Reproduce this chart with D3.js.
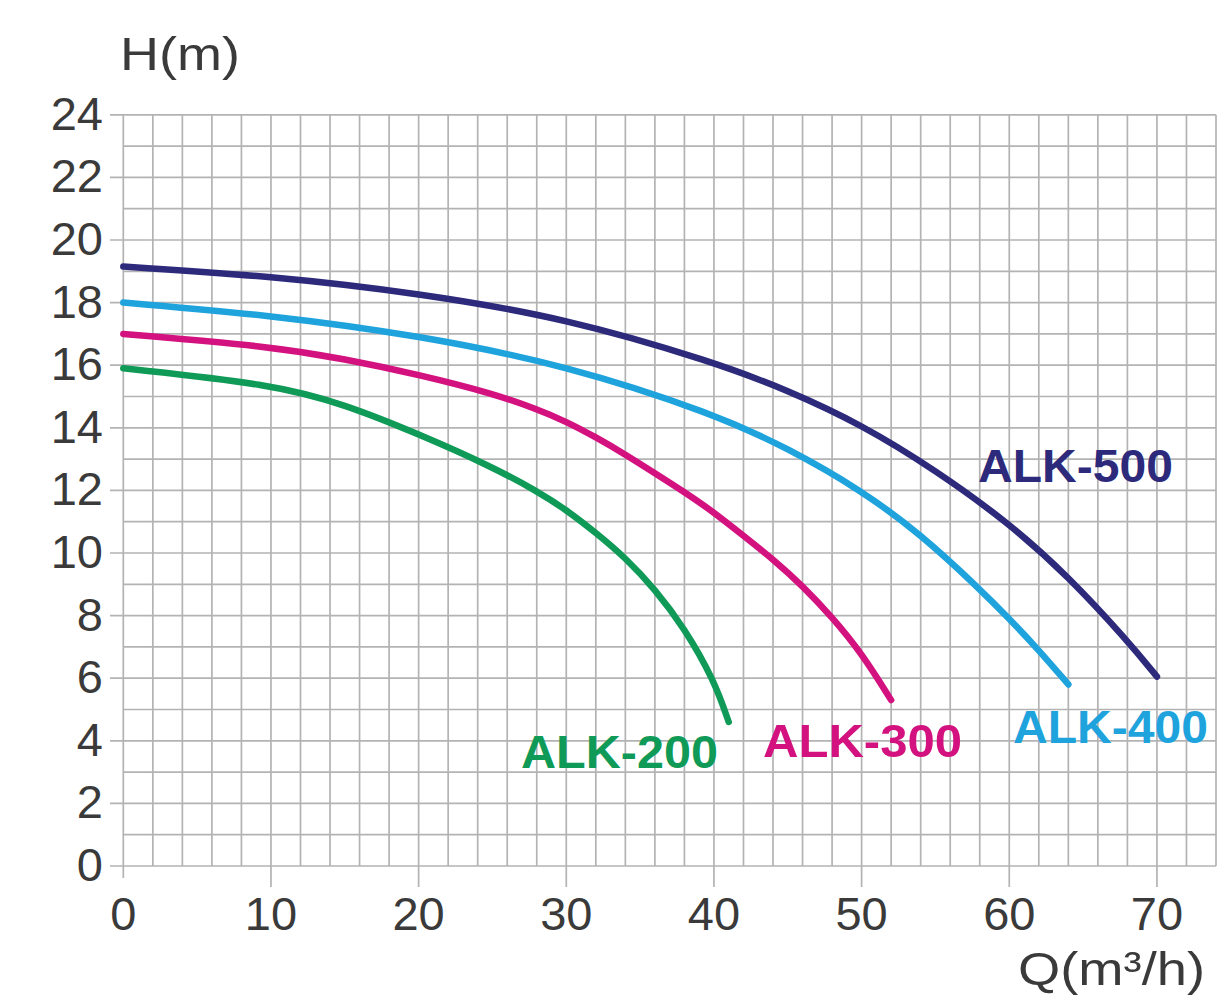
<!DOCTYPE html>
<html>
<head>
<meta charset="utf-8">
<script src="https://cdn.jsdelivr.net/npm/d3@7"></script>
<style>
  body { margin:0; background:#fff; }
  svg { display:block; }
</style>
</head>
<body>
<div id="chart"></div>
<script>
// pump curves (Q in m3/h, H in m)
var q500 = [0, 10, 20, 30, 40, 45, 50, 55, 60, 64, 68, 70];
var h500 = [19.15, 18.85, 18.3, 17.5, 16.1, 15.2, 14.1, 12.65, 10.95, 9.25, 7.2, 6.05];
var q400 = [0, 10, 20, 30, 40, 45, 50, 54, 58, 60, 62, 64];
var h400 = [18.0, 17.6, 16.95, 16.0, 14.45, 13.35, 12.0, 10.6, 8.85, 7.9, 6.9, 5.8];
var q300 = [0, 10, 15, 20, 25, 28, 30, 32, 34, 36, 38, 40, 42, 44, 46, 48, 50, 52];
var h300 = [17.0, 16.6, 16.2, 15.7, 15.1, 14.6, 14.2, 13.7, 13.15, 12.55, 11.95, 11.3, 10.55, 9.8, 8.95, 7.95, 6.8, 5.3];
var q200 = [0, 10, 15, 20, 25, 28, 30, 32, 34, 36, 38, 40, 41];
var h200 = [15.9, 15.4, 14.75, 13.8, 12.75, 11.98, 11.38, 10.65, 9.85, 8.85, 7.6, 5.95, 4.6];

var seriesNames = ['ALK-500', 'ALK-400', 'ALK-300', 'ALK-200'];
var seriesColors = ['#2d2a7c', '#1fa3dd', '#d4127f', '#109a57'];

var xTicks = [0, 10, 20, 30, 40, 50, 60, 70];
var yTicks = [0, 2, 4, 6, 8, 10, 12, 14, 16, 18, 20, 22, 24];

var width = 1218, height = 997;
var svg = d3.select('#chart').append('svg').attr('width', width).attr('height', height);

var x = d3.scaleLinear().domain([0, 74]).range([123.3, 1216]);
var y = d3.scaleLinear().domain([0, 24]).range([866, 114.8]);

var gridColor = '#b3b3b3';
var grid = svg.append('g');

// vertical grid every 2 units, majors run down as ticks
d3.range(0, 75, 2).forEach(function(v){
  var major = xTicks.indexOf(v) >= 0;
  grid.append('line')
    .attr('x1', x(v)).attr('x2', x(v))
    .attr('y1', y(24)).attr('y2', major ? (v == 0 ? 878 : 887) : y(0))
    .attr('stroke', gridColor).attr('stroke-width', 1.7);
});
// horizontal grid every unit, majors run left as ticks
d3.range(0, 25, 1).forEach(function(v){
  var major = yTicks.indexOf(v) >= 0;
  grid.append('line')
    .attr('x1', major ? 110 : x(0)).attr('x2', x(74))
    .attr('y1', y(v)).attr('y2', y(v))
    .attr('stroke', gridColor).attr('stroke-width', 1.7);
});

// tick labels
svg.append('g').selectAll('text').data(yTicks).enter().append('text')
  .attr('x', 103).attr('y', function(d){ return y(d) + 15; })
  .attr('text-anchor', 'end')
  .attr('font-family', 'Liberation Sans, Arial, sans-serif')
  .attr('font-size', 47).attr('fill', '#3a3a3a')
  .text(function(d){ return d; });

svg.append('g').selectAll('text').data(xTicks).enter().append('text')
  .attr('x', function(d){ return x(d); }).attr('y', 930)
  .attr('text-anchor', 'middle')
  .attr('font-family', 'Liberation Sans, Arial, sans-serif')
  .attr('font-size', 47).attr('fill', '#3a3a3a')
  .text(function(d){ return d; });

// axis titles
svg.append('text').attr('x', 120).attr('y', 70)
  .attr('font-family', 'Liberation Sans, Arial, sans-serif')
  .attr('font-size', 46).attr('fill', '#3a3a3a')
  .attr('textLength', 120).attr('lengthAdjust', 'spacingAndGlyphs')
  .text('H(m)');
svg.append('text').attr('x', 1018).attr('y', 985)
  .attr('font-family', 'Liberation Sans, Arial, sans-serif')
  .attr('font-size', 46).attr('fill', '#3a3a3a')
  .attr('textLength', 187).attr('lengthAdjust', 'spacingAndGlyphs')
  .text('Q(m³/h)');

// curves - basis smooths out reading noise
var line = d3.line()
  .x(function(d){ return x(d[0]); })
  .y(function(d){ return y(d[1]); })
  .curve(d3.curveBasis);

var allQ = [q500, q400, q300, q200];
var allH = [h500, h400, h300, h200];
for (var i = 0; i < allQ.length; i++) {
  var pts = allQ[i].map(function(q, j){ return [q, allH[i][j]]; });
  svg.append('path').datum(pts)
    .attr('d', line)
    .attr('fill', 'none')
    .attr('stroke', seriesColors[i])
    .attr('stroke-width', 6.5)
    .attr('stroke-linecap', 'round');
}

// series labels (left x, baseline y, text width)
var labelX = [978, 1013, 763, 521];
var labelY = [482, 743, 757, 768];
var labelW = [195, 195, 199, 197];
for (var k = 0; k < seriesNames.length; k++) {
  svg.append('text')
    .attr('x', labelX[k]).attr('y', labelY[k])
    .attr('font-family', 'Liberation Sans, Arial, sans-serif')
    .attr('font-weight', 'bold')
    .attr('font-size', 47)
    .attr('fill', seriesColors[k])
    .attr('textLength', labelW[k]).attr('lengthAdjust', 'spacingAndGlyphs')
    .text(seriesNames[k]);
}
</script>
</body>
</html>
